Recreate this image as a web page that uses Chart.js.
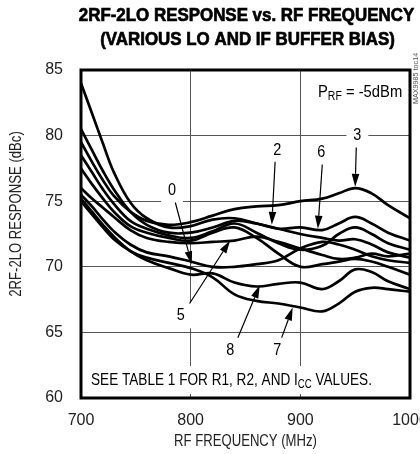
<!DOCTYPE html>
<html>
<head>
<meta charset="utf-8">
<style>
html, body { margin: 0; padding: 0; background: #fff; overflow: hidden; }
#wrap { position: relative; width: 420px; height: 454px; }
</style>
<script src="https://cdn.jsdelivr.net/npm/chart.js@4.4.1/dist/chart.umd.min.js"></script>
</head>
<body>
<div id="wrap"><canvas id="grafico"></canvas></div>
<script>
// frecuencias RF (MHz) donde se leyeron las curvas
const frecuencias = [700, 710, 720, 730, 745, 760, 780, 800, 820, 840, 860, 880, 900, 920, 935, 950, 965, 980, 1000];

// respuesta 2RF-2LO (dBc) de cada curva
const curva0 = [75.5, 74.6, 73.6, 72.7, 71.7, 71.1, 70.8, 70.4, 70.0, 70.0, 70.2, 70.5, 71.4, 71.9, 71.7, 71.3, 70.8, 70.5, 70.3];
const curva1 = [78.5, 77.2, 75.9, 74.8, 73.5, 72.9, 72.4, 72.2, 72.7, 73.3, 72.6, 71.8, 71.3, 71.6, 72.5, 73.0, 72.5, 71.8, 71.3];
const curva2 = [84.0, 81.7, 79.4, 77.2, 74.9, 73.7, 73.0, 73.1, 73.6, 73.7, 73.3, 72.9, 72.5, 72.2, 72.0, 72.1, 71.7, 71.1, 70.7];
const curva3 = [79.5, 78.0, 76.6, 75.4, 74.2, 73.5, 73.2, 73.4, 73.9, 74.4, 74.6, 74.7, 75.0, 75.2, 75.6, 76.0, 75.6, 74.7, 73.7];
const curva4 = [77.5, 76.3, 75.2, 74.2, 73.1, 72.6, 72.2, 72.0, 72.6, 73.0, 72.2, 71.0, 70.0, 70.2, 70.4, 70.6, 70.4, 70.0, 69.4];
const curva5 = [76.0, 75.2, 74.5, 73.8, 72.8, 72.2, 71.9, 71.8, 71.9, 72.0, 72.3, 71.9, 71.4, 70.9, 70.6, 70.7, 71.0, 70.8, 71.0];
const curva6 = [80.5, 78.9, 77.3, 75.9, 74.2, 73.2, 72.6, 72.6, 73.0, 73.5, 73.3, 72.9, 73.0, 72.8, 73.3, 73.8, 73.3, 72.6, 72.0];
const curva7 = [75.0, 74.0, 73.0, 72.1, 71.2, 70.7, 70.3, 69.9, 69.2, 67.9, 67.4, 67.2, 66.9, 66.6, 67.2, 68.1, 68.4, 68.3, 68.1];
const curva8 = [75.2, 74.2, 73.2, 72.3, 71.2, 70.5, 69.9, 69.4, 69.5, 68.8, 68.5, 68.7, 68.8, 68.3, 68.9, 69.8, 69.6, 68.9, 68.3];

const curvas = [curva0, curva1, curva2, curva3, curva4, curva5, curva6, curva7, curva8];

const ticksX = [700, 800, 900, 1000];
const ticksY = [60, 65, 70, 75, 80, 85];

// etiquetas de curva: texto, posicion del texto y punta de la flecha (MHz, dBc)
const etiquetas = ['0', '2', '3', '5', '6', '7', '8'];
const etiquetaPos = [[783, 75.8], [879, 78.9], [952, 80.0], [791, 66.3], [919, 78.7], [879, 63.6], [836, 63.6]];
const flechaDesde = [[786, 74.9], [877, 78.0], [951, 79.1], [799, 67.2], [920, 77.8], [883, 64.6], [843, 64.6]];
const flechaHasta = [[801, 70.2], [874, 73.2], [950, 76.1], [836, 72.0], [916, 72.9], [893, 66.9], [863, 68.6]];

const FUENTE = "'Liberation Sans', Arial, sans-serif";

// dibuja texto (con subindices) comprimido horizontalmente como una fuente estrecha
function textoEstrecho(ctx, partes, x, y, tam, escala, align, negrita) {
    const fuente = s => (negrita ? 'bold ' : '') + s + 'px ' + FUENTE;
    let ancho = 0;
    partes.forEach(p => {
        ctx.font = fuente(p[1] ? Math.round(tam * 0.72) : tam);
        ancho += ctx.measureText(p[0]).width;
    });
    ctx.save();
    ctx.translate(x, y);
    ctx.scale(escala, 1);
    ctx.textAlign = 'left';
    let cx = align === 'center' ? -ancho / 2 : 0;
    partes.forEach(p => {
        ctx.font = fuente(p[1] ? Math.round(tam * 0.72) : tam);
        ctx.fillText(p[0], cx, p[1] ? tam * 0.3 : 0);
        if (negrita) {
            ctx.lineWidth = 0.7;
            ctx.strokeText(p[0], cx, p[1] ? tam * 0.3 : 0);
        }
        cx += ctx.measureText(p[0]).width;
    });
    ctx.restore();
}

const anotaciones = {
    id: 'anotaciones',
    beforeDatasetsDraw(chart) {
        const { ctx, scales: { x, y }, chartArea } = chart;
        ctx.save();
        ctx.fillStyle = '#fff';
        etiquetas.forEach((t, i) => {
            const px = x.getPixelForValue(etiquetaPos[i][0]);
            const py = y.getPixelForValue(etiquetaPos[i][1]);
            ctx.fillRect(px - 11, py - 13, 22, 26);
        });
        // caja blanca de la nota inferior
        ctx.fillRect(chartArea.left + 2, chartArea.bottom - 32, chartArea.width - 4, 28);
        ctx.restore();
    },
    afterDatasetsDraw(chart) {
        const { ctx, scales: { x, y }, chartArea } = chart;
        ctx.save();
        ctx.fillStyle = '#000';
        ctx.strokeStyle = '#000';
        ctx.textBaseline = 'middle';

        // etiquetas y flechas
        etiquetas.forEach((t, i) => {
            textoEstrecho(ctx, [[t, false]], x.getPixelForValue(etiquetaPos[i][0]), y.getPixelForValue(etiquetaPos[i][1]), 17, 0.85, 'center');
            const x1 = x.getPixelForValue(flechaDesde[i][0]), y1 = y.getPixelForValue(flechaDesde[i][1]);
            const x2 = x.getPixelForValue(flechaHasta[i][0]), y2 = y.getPixelForValue(flechaHasta[i][1]);
            const ang = Math.atan2(y2 - y1, x2 - x1);
            const largo = 13, ancho = 3.8;
            ctx.lineWidth = 1.2;
            ctx.beginPath();
            ctx.moveTo(x1, y1);
            ctx.lineTo(x2 - Math.cos(ang) * largo, y2 - Math.sin(ang) * largo);
            ctx.stroke();
            ctx.beginPath();
            ctx.moveTo(x2, y2);
            ctx.lineTo(x2 - Math.cos(ang) * largo - Math.sin(ang) * ancho, y2 - Math.sin(ang) * largo + Math.cos(ang) * ancho);
            ctx.lineTo(x2 - Math.cos(ang) * largo + Math.sin(ang) * ancho, y2 - Math.sin(ang) * largo - Math.cos(ang) * ancho);
            ctx.closePath();
            ctx.fill();
        });

        // P_RF = -5dBm
        textoEstrecho(ctx, [['P', false], ['RF', true], [' = -5dBm', false]], chartArea.left + 237, chartArea.top + 22, 17, 0.87, 'left');

        // nota inferior
        textoEstrecho(ctx, [['SEE TABLE 1 FOR R1, R2, AND I', false], ['CC', true], [' VALUES.', false]], chartArea.left + 10, chartArea.bottom - 18, 17, 0.8, 'left');

        // marco del grafico
        ctx.lineWidth = 3;
        ctx.strokeRect(chartArea.left, chartArea.top, chartArea.width, chartArea.height);

        // titulo
        textoEstrecho(ctx, [['2RF-2LO RESPONSE vs. RF FREQUENCY', false]], 246.5, 16, 19, 0.89, 'center', true);
        textoEstrecho(ctx, [['(VARIOUS LO AND IF BUFFER BIAS)', false]], 247.5, 40, 19, 0.89, 'center', true);

        // titulos de ejes
        ctx.fillStyle = '#222';
        textoEstrecho(ctx, [['RF FREQUENCY (MHz)', false]], (chartArea.left + chartArea.right) / 2, 442, 16, 0.82, 'center');
        ctx.save();
        ctx.translate(17, 214);
        ctx.rotate(-Math.PI / 2);
        textoEstrecho(ctx, [['2RF-2LO RESPONSE (dBc)', false]], 0, 0, 16, 0.82, 'center');
        ctx.restore();

        // codigo de la figura
        ctx.save();
        ctx.translate(416, 104);
        ctx.rotate(-Math.PI / 2);
        ctx.fillStyle = '#555';
        textoEstrecho(ctx, [['MAX9985 toc14', false]], 0, 0, 8, 0.9, 'left');
        ctx.restore();

        ctx.restore();
    }
};

document.addEventListener('DOMContentLoaded', function() {
    const ctx = document.getElementById('grafico').getContext('2d');

    const datasets = curvas.map((c, i) => ({
        label: 'curva ' + i,
        data: frecuencias.map((f, j) => ({ x: f, y: c[j] })),
        borderColor: '#000',
        borderWidth: 2.7,
        pointRadius: 0,
        tension: 0.4,
        fill: false
    }));

    new Chart(ctx, {
        type: 'line',
        data: { datasets },
        options: {
            responsive: true,
            maintainAspectRatio: false,
            animation: false,
            layout: { padding: { left: 0, right: 10, top: 70, bottom: 0 } },
            plugins: {
                legend: { display: false },
                tooltip: { enabled: false },
                title: { display: false }
            },
            scales: {
                x: {
                    type: 'linear',
                    min: 700,
                    max: 1000,
                    afterBuildTicks: s => { s.ticks = ticksX.map(v => ({ value: v })); },
                    afterFit: s => { s.height = 56; s.paddingLeft = 0; s.paddingRight = 0; },
                    grid: { color: '#555', lineWidth: 1, drawTicks: false },
                    border: { display: false },
                    ticks: {
                        color: '#222',
                        padding: 13,
                        maxRotation: 0,
                        font: { family: FUENTE, size: 16 },
                        callback: v => String(v)
                    }
                },
                y: {
                    min: 60,
                    max: 85,
                    afterBuildTicks: s => { s.ticks = ticksY.map(v => ({ value: v })); },
                    afterFit: s => { s.width = 81; },
                    grid: { color: '#555', lineWidth: 1, drawTicks: false },
                    border: { display: false },
                    ticks: { color: '#222', padding: 18, font: { family: FUENTE, size: 16 }, callback: v => String(v) }
                }
            }
        },
        plugins: [anotaciones]
    });
});
</script>
</body>
</html>
